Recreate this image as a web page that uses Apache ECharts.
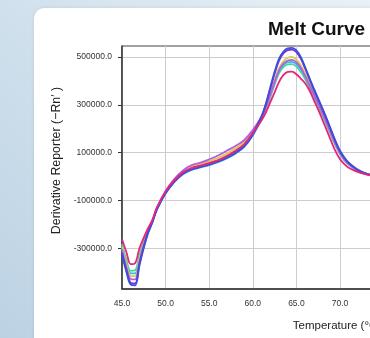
<!DOCTYPE html>
<html>
<head>
<meta charset="utf-8">
<script src="https://cdn.jsdelivr.net/npm/echarts@6/dist/echarts.min.js"></script>
<style>html,body{margin:0;padding:0;background:#d3e2ee;}#c{width:370px;height:338px;}</style>
</head>
<body>
<div id="c"></div>
<script>
// Temperatures (°C), shared by all wells
var temps = [45, 45.5, 46, 46.5, 47, 47.5, 48, 48.5, 49, 50, 51, 52, 53, 54, 55, 56, 57, 58, 59, 60, 61, 61.5, 62, 62.5, 63, 63.5, 64, 64.5, 65, 65.5, 66, 66.5, 67, 67.5, 68, 68.5, 69, 69.5, 70, 70.5, 71, 72, 73, 74, 75, 76];

var cyanWell = [-290000, -358000, -405000, -405000, -338000, -276000, -228000, -188000, -138000, -70000, -22000, 10000, 28000, 38000, 48000, 60000, 76000, 96000, 124000, 172000, 238000, 280000, 334000, 390000, 440000, 466000, 478000, 480000, 470000, 448000, 416000, 378000, 340000, 300000, 260000, 218000, 174000, 132000, 96000, 70000, 51000, 25000, 10000, 2000, -3000, -6000];
var greenWell = [-282000, -348000, -394000, -392000, -328000, -270000, -222000, -184000, -134000, -66000, -18000, 15000, 33000, 43000, 53000, 65000, 82000, 102000, 130000, 178000, 240000, 280000, 332000, 385000, 432000, 458000, 469000, 470000, 460000, 438000, 408000, 372000, 334000, 295000, 255000, 213000, 170000, 128000, 93000, 68000, 49000, 24000, 10000, 2000, -3000, -6000];
var yellowWell = [-295000, -365000, -415000, -416000, -345000, -280000, -226000, -184000, -133000, -64000, -14000, 22000, 42000, 52000, 64000, 78000, 96000, 118000, 145000, 190000, 248000, 290000, 345000, 402000, 452000, 482000, 497000, 500000, 490000, 466000, 430000, 390000, 350000, 310000, 268000, 225000, 180000, 137000, 100000, 74000, 53000, 27000, 11000, 3000, -2000, -6000];
var violetWell = [-305000, -378000, -428000, -430000, -355000, -285000, -228000, -184000, -130000, -60000, -10000, 26000, 48000, 58000, 72000, 88000, 108000, 128000, 152000, 195000, 250000, 290000, 342000, 396000, 444000, 472000, 485000, 488000, 478000, 455000, 421000, 383000, 344000, 305000, 264000, 222000, 178000, 135000, 98000, 72000, 52000, 26000, 11000, 3000, -2000, -6000];
var purpleWell = [-318000, -390000, -444000, -447000, -365000, -292000, -232000, -187000, -135000, -66000, -18000, 16000, 35000, 45000, 55000, 68000, 85000, 106000, 133000, 180000, 252000, 302000, 366000, 430000, 484000, 515000, 529000, 531000, 520000, 493000, 452000, 407000, 364000, 322000, 280000, 236000, 190000, 145000, 106000, 78000, 56000, 29000, 12000, 3000, -2000, -6000];
var blueWell = [-325000, -398000, -452000, -455000, -372000, -298000, -236000, -190000, -138000, -70000, -22000, 12000, 30000, 40000, 50000, 62000, 78000, 98000, 125000, 175000, 250000, 305000, 372000, 438000, 492000, 522000, 536000, 538000, 528000, 500000, 458000, 412000, 368000, 326000, 284000, 240000, 193000, 147000, 108000, 80000, 58000, 30000, 13000, 4000, -2000, -6000];
var pinkWell = [-262000, -315000, -366000, -362000, -300000, -255000, -215000, -180000, -130000, -62000, -15000, 18000, 36000, 46000, 56000, 68000, 86000, 108000, 135000, 182000, 235000, 268000, 310000, 352000, 395000, 424000, 438000, 439000, 428000, 410000, 390000, 360000, 320000, 280000, 236000, 192000, 147000, 105000, 73000, 52000, 37000, 20000, 9000, 2000, -3000, -6000];

var xTicks = [45, 50, 55, 60, 65, 70, 75, 80, 85, 90, 95];
var yTicks = [-300000, -100000, 100000, 300000, 500000];

var wells = [
  {name: 'C', values: cyanWell, color: '#35b6e6'},
  {name: 'G', values: greenWell, color: '#3fd8a2'},
  {name: 'Y', values: yellowWell, color: '#d9cb4e'},
  {name: 'V', values: violetWell, color: '#b45de2'},
  {name: 'P', values: purpleWell, color: '#7a30da'},
  {name: 'B', values: blueWell, color: '#3c4fd6'},
  {name: 'K', values: pinkWell, color: '#e8247c'}
];

function pairs(v) { return temps.map(function (t, i) { return [t, v[i]]; }); }

var chart = echarts.init(document.getElementById('c'), null, {renderer: 'canvas'});
chart.setOption({
  animation: false,
  graphic: [
    {type: 'rect', z: -10, silent: true, shape: {x: 0, y: 0, width: 370, height: 338},
      style: {fill: new echarts.graphic.LinearGradient(0, 1, 1, 0, [
        {offset: 0, color: '#bcd2e3'}, {offset: 0.5, color: '#d2e2ee'}, {offset: 1, color: '#e9f1f6'}])}},
    {type: 'rect', z: -9, silent: true, shape: {x: 34, y: 8, width: 420, height: 400, r: 10},
      style: {fill: '#ffffff', shadowBlur: 3, shadowColor: 'rgba(0,0,0,0.12)'}}
  ],
  title: {
    text: 'Melt Curve', left: 263, top: 15,
    textStyle: {fontFamily: 'Liberation Sans, Arial', fontSize: 19, fontWeight: 'bold', color: '#111'}
  },
  grid: {left: 122, top: 46, width: 436, height: 243, outerBoundsMode: 'none', containLabel: false,
    show: true, borderColor: '#444', borderWidth: 1, backgroundColor: 'transparent'},
  xAxis: {
    type: 'value', min: 45, max: 95, interval: 5,
    name: 'Temperature (°C)', nameLocation: 'middle', nameGap: 31,
    nameTextStyle: {fontFamily: 'Liberation Sans, Arial', fontSize: 11.5, color: '#222', padding: [0, 6, 0, 0]},
    axisLine: {show: true, onZero: false, lineStyle: {color: '#333', width: 1.5}},
    axisTick: {show: false},
    axisLabel: {margin: 10, fontFamily: 'Liberation Sans, Arial', fontSize: 8.5, color: '#333',
      customValues: xTicks, formatter: function (v) { return v.toFixed(1); }},
    splitLine: {show: true, lineStyle: {color: '#cdcdcd', width: 1}}
  },
  yAxis: {
    type: 'value', min: -470000, max: 546000,
    name: 'Derivative Reporter (\u2212Rn\u2032 )', nameLocation: 'middle', nameGap: 57, nameRotate: 90,
    nameTextStyle: {fontFamily: 'Liberation Sans, Arial', fontSize: 12.4, color: '#222', padding: [0, 0, 0, 14]},
    axisLine: {show: true, onZero: false, lineStyle: {color: '#333', width: 1.5}},
    axisTick: {show: true, length: 4, customValues: yTicks, lineStyle: {color: '#333'}},
    axisLabel: {margin: 10, fontFamily: 'Liberation Sans, Arial', fontSize: 8.5, color: '#333',
      customValues: yTicks, formatter: function (v) { return v.toFixed(1); }},
    splitLine: {show: true, lineStyle: {color: '#cdcdcd', width: 1}}
  },
  series: wells.map(function (w) {
    return {
      type: 'line', name: w.name, data: pairs(w.values), showSymbol: false, smooth: 0.35,
      lineStyle: {color: w.color, width: 1.8}, itemStyle: {color: w.color}
    };
  })
});
</script>
</body>
</html>
